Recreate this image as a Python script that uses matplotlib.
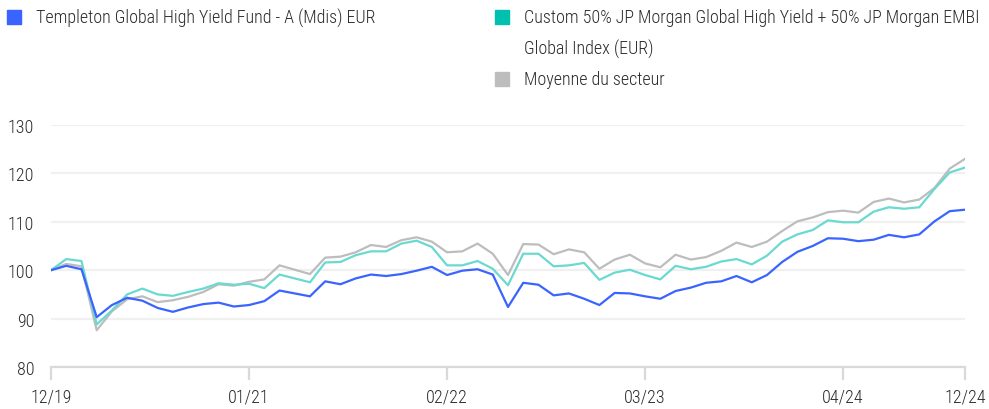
import matplotlib
matplotlib.use("Agg")
import matplotlib.pyplot as plt
from matplotlib.patches import Rectangle

plt.rcParams['font.family'] = ['Roboto Condensed', 'DejaVu Sans']
plt.rcParams['font.weight'] = 'light'

# données (base 100, mensuel 12/19 -> 12/24)
fund = [100.0, 100.9, 100.2, 90.3, 92.8, 94.3, 93.7, 92.2, 91.4, 92.3,
        93.0, 93.3, 92.5, 92.8, 93.6, 95.8, 95.2, 94.6, 97.7, 97.1,
        98.3, 99.1, 98.8, 99.2, 99.9, 100.7, 99.0, 99.9, 100.2, 99.1,
        92.4, 97.4, 97.0, 94.8, 95.2, 94.1, 92.8, 95.3, 95.2, 94.6,
        94.1, 95.7, 96.4, 97.4, 97.7, 98.8, 97.5, 99.0, 101.7, 103.8,
        105.0, 106.6, 106.5, 106.0, 106.3, 107.3, 106.8, 107.4, 110.1, 112.2,
        112.5]
bench = [100.0, 102.3, 101.9, 88.8, 91.7, 95.0, 96.2, 95.0, 94.7, 95.5,
         96.2, 97.3, 97.0, 97.2, 96.3, 99.1, 98.3, 97.5, 101.6, 101.7,
         103.1, 103.9, 103.9, 105.5, 106.1, 104.8, 101.0, 101.0, 101.9, 100.3,
         96.9, 103.4, 103.4, 100.8, 101.0, 101.5, 98.0, 99.5, 100.1, 99.0,
         98.1, 100.9, 100.2, 100.7, 101.8, 102.3, 101.2, 103.0, 105.9, 107.4,
         108.3, 110.3, 109.9, 109.9, 112.1, 113.0, 112.7, 113.0, 116.8, 120.2,
         121.2]
sector = [100.0, 101.3, 100.8, 87.6, 91.5, 94.0, 94.6, 93.4, 93.8, 94.5,
          95.5, 97.1, 96.8, 97.6, 98.1, 101.0, 100.1, 99.2, 102.6, 102.8,
          103.7, 105.2, 104.8, 106.2, 106.8, 105.9, 103.7, 103.9, 105.5, 103.4,
          99.0, 105.4, 105.3, 103.3, 104.3, 103.7, 100.3, 102.2, 103.2, 101.4,
          100.6, 103.2, 102.2, 102.7, 104.0, 105.7, 104.8, 105.9, 108.1, 110.1,
          110.9, 112.0, 112.3, 111.9, 114.1, 114.8, 114.0, 114.6, 117.0, 121.0,
          123.0]
months = list(range(len(fund)))
tick_pos = [0, 13, 26, 39, 52, 60]
tick_labels = ['12/19', '01/21', '02/22', '03/23', '04/24', '12/24']
y_ticks = [80, 90, 100, 110, 120, 130]

names = ['Templeton Global High Yield Fund - A (Mdis) EUR',
         'Custom 50% JP Morgan Global High Yield + 50% JP Morgan EMBI',
         'Global Index (EUR)',
         'Moyenne du secteur']
line_colors = ['#3a64ff', '#6ad9d0', '#bdbdbd']
box_colors = ['#3a64ff', '#00c0b0', None, '#bdbdbd']

W, H = 989, 410
fig = plt.figure(figsize=(W/100, H/100), dpi=100)
ax = fig.add_axes([51/W, 1-368/H, 914/W, 242/H])

ax.plot(months, sector, color=line_colors[2], lw=1.6, zorder=3)
ax.plot(months, bench, color=line_colors[1], lw=1.6, zorder=4)
ax.plot(months, fund, color=line_colors[0], lw=1.6, zorder=5)

ax.set_xlim(0, 60)
ax.set_ylim(80, 130)
ax.set_yticks(y_ticks)
ax.set_xticks(tick_pos)
ax.set_xticklabels(tick_labels)
ax.grid(axis='y', color='#f0f0f0', lw=1.6, zorder=0)
ax.set_axisbelow(True)
for s in ['top', 'right', 'left']:
    ax.spines[s].set_visible(False)
ax.spines['bottom'].set_color('#d9d9d9')
ax.spines['bottom'].set_linewidth(1.6)
ax.tick_params(axis='x', length=9, width=1.6, color='#d9d9d9', pad=6,
               labelsize=13, labelcolor='#2b2b2b')
ax.tick_params(axis='y', length=0, pad=12, labelsize=13, labelcolor='#2b2b2b')


# légende
def fx(px):
    return px / W


def fy(py):
    return 1 - py / H


legend_pos = [(7, 18), (495, 18), (495, 49), (495, 80)]
for (x0, yc), name, col in zip(legend_pos, names, box_colors):
    if col is not None:
        fig.patches.append(Rectangle((fx(x0), fy(yc + 7)), 14/W, 14/H,
                                     transform=fig.transFigure, color=col))
    fig.text(fx(x0 + 29), fy(yc), name, ha='left', va='center',
             fontsize=13, color='#2b2b2b')

fig.savefig('out.png', dpi=100)
